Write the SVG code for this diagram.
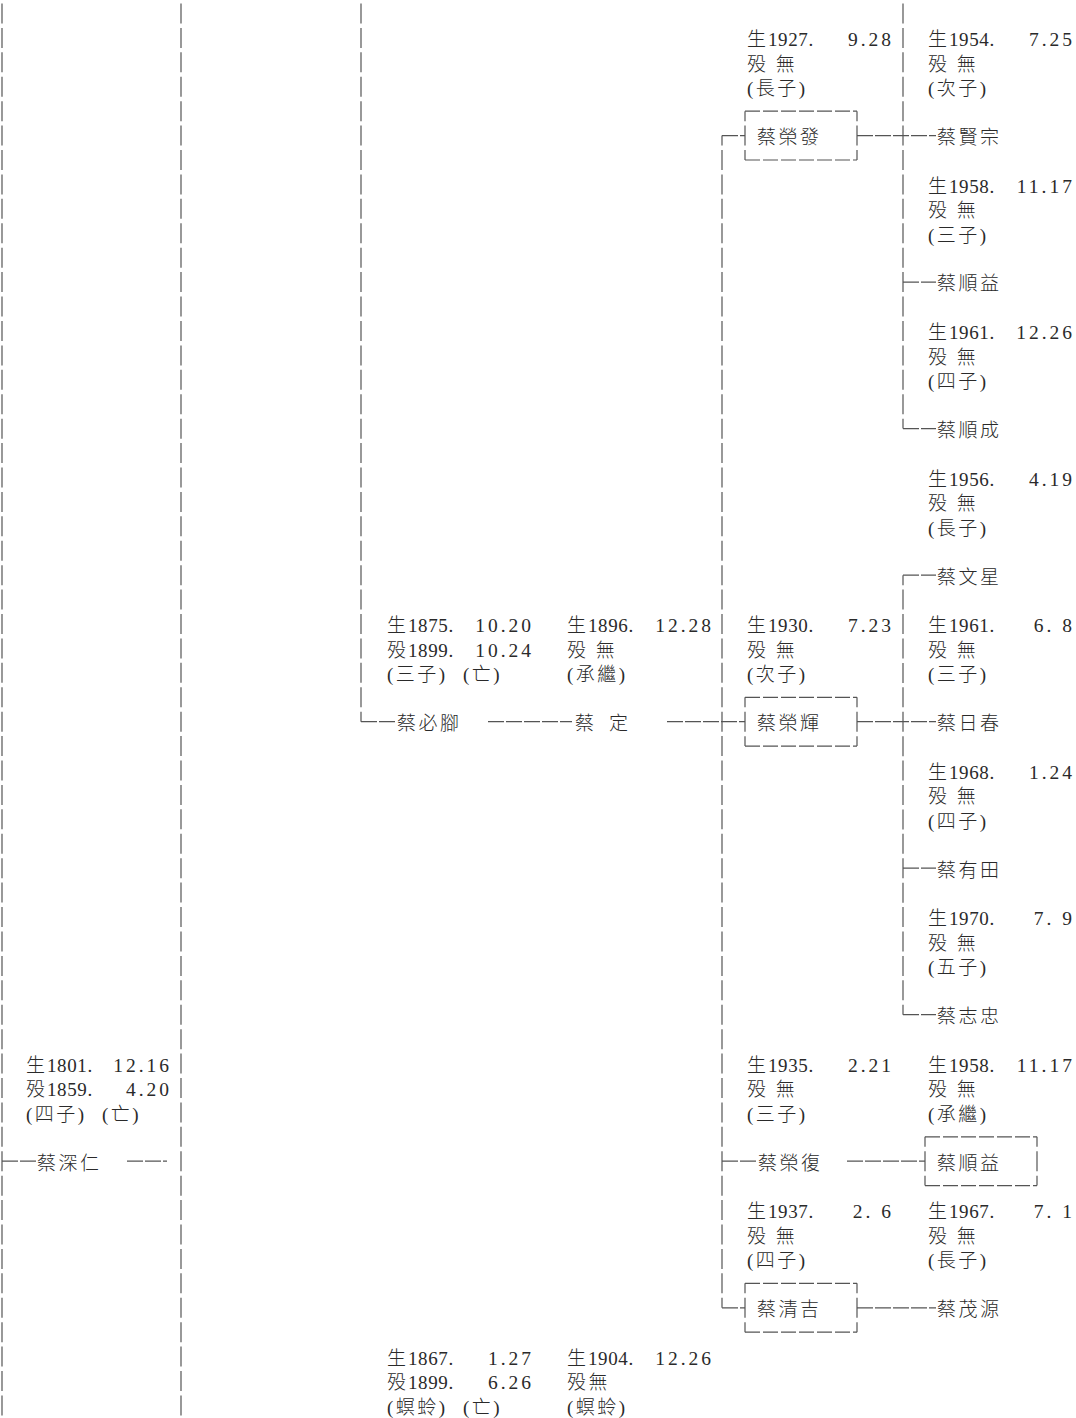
<svg xmlns="http://www.w3.org/2000/svg" width="1076" height="1418" viewBox="0 0 1076 1418">
<style>
.t{font-family:"Liberation Serif","Noto Sans CJK TC",serif;font-size:19px;fill:#2a2a2a;font-weight:300;}
.c{letter-spacing:2.5px;}
.y{letter-spacing:0.6px;}
.r{text-anchor:end;letter-spacing:3px;font-size:19.5px;}
.v{stroke:#555;stroke-width:1.2;fill:none;stroke-dasharray:20 4.42;}
.vo{stroke-dashoffset:10;}
.h{stroke:#555;stroke-width:1.2;fill:none;stroke-dasharray:16 2;}
.bx{stroke:#555;stroke-width:1.2;fill:none;stroke-dasharray:15 3;}
</style>
<rect width="1076" height="1418" fill="#fff"/>
<g id="connectors">
<line class="v" x1="2" y1="3.5" x2="2" y2="1418"/>
<line class="v" x1="181" y1="3.5" x2="181" y2="1418"/>
<line class="v" x1="361" y1="3.5" x2="361" y2="721.7"/>
<line class="v vo" x1="722" y1="135.6" x2="722" y2="1307.8"/>
<line class="v" x1="903" y1="3.5" x2="903" y2="428.6"/>
<line class="v vo" x1="903" y1="575.2" x2="903" y2="1014.7"/>
<line class="h" x1="2" y1="1161.2" x2="36" y2="1161.2"/>
<line class="h" x1="127" y1="1161.2" x2="167" y2="1161.2"/>
<line class="h" x1="361" y1="721.7" x2="396" y2="721.7"/>
<line class="h" x1="488" y1="721.7" x2="572" y2="721.7"/>
<line class="h" x1="667" y1="721.7" x2="745" y2="721.7"/>
<line class="h" x1="722" y1="135.6" x2="745" y2="135.6"/>
<line class="h" x1="857" y1="135.6" x2="936" y2="135.6"/>
<line class="h" x1="903" y1="282.1" x2="936" y2="282.1"/>
<line class="h" x1="903" y1="428.6" x2="936" y2="428.6"/>
<line class="h" x1="903" y1="575.2" x2="936" y2="575.2"/>
<line class="h" x1="857" y1="721.7" x2="936" y2="721.7"/>
<line class="h" x1="903" y1="868.2" x2="936" y2="868.2"/>
<line class="h" x1="903" y1="1014.7" x2="936" y2="1014.7"/>
<line class="h" x1="722" y1="1161.2" x2="756" y2="1161.2"/>
<line class="h" x1="847" y1="1161.2" x2="925" y2="1161.2"/>
<line class="h" x1="722" y1="1307.8" x2="745" y2="1307.8"/>
<line class="h" x1="857" y1="1307.8" x2="936" y2="1307.8"/>
</g>

<g id="box-rongfa">
<line class="bx" x1="745" y1="111.2" x2="857" y2="111.2"/>
<line class="bx" x1="745" y1="160" x2="857" y2="160"/>
<line class="v vo" x1="745" y1="111.2" x2="745" y2="160"/>
<line class="v vo" x1="857" y1="111.2" x2="857" y2="160"/>
<text class="t c" x="757" y="143.9">蔡榮發</text>
</g>
<g id="box-ronghui">
<line class="bx" x1="745" y1="697.3" x2="857" y2="697.3"/>
<line class="bx" x1="745" y1="746.1" x2="857" y2="746.1"/>
<line class="v vo" x1="745" y1="697.3" x2="745" y2="746.1"/>
<line class="v vo" x1="857" y1="697.3" x2="857" y2="746.1"/>
<text class="t c" x="757" y="730">蔡榮輝</text>
</g>
<g id="box-shunyi2">
<line class="bx" x1="925" y1="1136.8" x2="1037" y2="1136.8"/>
<line class="bx" x1="925" y1="1185.6" x2="1037" y2="1185.6"/>
<line class="v vo" x1="925" y1="1136.8" x2="925" y2="1185.6"/>
<line class="v vo" x1="1037" y1="1136.8" x2="1037" y2="1185.6"/>
<text class="t c" x="937" y="1169.5">蔡順益</text>
</g>
<g id="box-qingji">
<line class="bx" x1="745" y1="1283.3" x2="857" y2="1283.3"/>
<line class="bx" x1="745" y1="1332.2" x2="857" y2="1332.2"/>
<line class="v vo" x1="745" y1="1283.3" x2="745" y2="1332.2"/>
<line class="v vo" x1="857" y1="1283.3" x2="857" y2="1332.2"/>
<text class="t c" x="757" y="1316.1">蔡清吉</text>
</g>

<g id="shenren">
<text class="t" x="26" y="1071.9">生<tspan class="y" x="47">1801.</tspan></text><text class="t r" x="172" y="1071.9">12.16</text>
<text class="t" x="26" y="1096.3">殁<tspan class="y" x="47">1859.</tspan></text><text class="t r" x="172" y="1096.3">4.20</text>
<text class="t c" x="26" y="1120.7">(四子)<tspan x="102">(亡)</tspan></text>
<text class="t c" x="37" y="1169.5">蔡深仁</text>
</g>
<g id="bijiao">
<text class="t" x="387" y="632.3">生<tspan class="y" x="408">1875.</tspan></text><text class="t r" x="534" y="632.3">10.20</text>
<text class="t" x="387" y="656.7">殁<tspan class="y" x="408">1899.</tspan></text><text class="t r" x="534" y="656.7">10.24</text>
<text class="t c" x="387" y="681.1">(三子)<tspan x="463">(亡)</tspan></text>
<text class="t c" x="397" y="730">蔡必腳</text>
</g>
<g id="ding">
<text class="t" x="567" y="632.3">生<tspan class="y" x="588">1896.</tspan></text><text class="t r" x="714" y="632.3">12.28</text>
<text class="t c" x="567" y="656.7">殁 無</text>
<text class="t c" x="567" y="681.1">(承繼)</text>
<text class="t" x="575" y="730">蔡</text><text class="t" x="609" y="730">定</text>
</g>
<g id="adopt1">
<text class="t" x="387" y="1364.9">生<tspan class="y" x="408">1867.</tspan></text><text class="t r" x="534" y="1364.9">1.27</text>
<text class="t" x="387" y="1389.3">殁<tspan class="y" x="408">1899.</tspan></text><text class="t r" x="534" y="1389.3">6.26</text>
<text class="t c" x="387" y="1413.7">(螟蛉)<tspan x="463">(亡)</tspan></text>
</g>
<g id="adopt2">
<text class="t" x="567" y="1364.9">生<tspan class="y" x="588">1904.</tspan></text><text class="t r" x="714" y="1364.9">12.26</text>
<text class="t c" x="567" y="1389.3">殁無</text>
<text class="t c" x="567" y="1413.7">(螟蛉)</text>
</g>

<g id="rongfa-info">
<text class="t" x="747" y="46.2">生<tspan class="y" x="768">1927.</tspan></text><text class="t r" x="894" y="46.2">9.28</text>
<text class="t c" x="747" y="70.6">殁 無</text>
<text class="t c" x="747" y="95.1">(長子)</text>
</g>
<g id="ronghui-info">
<text class="t" x="747" y="632.3">生<tspan class="y" x="768">1930.</tspan></text><text class="t r" x="894" y="632.3">7.23</text>
<text class="t c" x="747" y="656.7">殁 無</text>
<text class="t c" x="747" y="681.1">(次子)</text>
</g>
<g id="rongfu">
<text class="t" x="747" y="1071.9">生<tspan class="y" x="768">1935.</tspan></text><text class="t r" x="894" y="1071.9">2.21</text>
<text class="t c" x="747" y="1096.3">殁 無</text>
<text class="t c" x="747" y="1120.7">(三子)</text>
<text class="t c" x="758" y="1169.5">蔡榮復</text>
</g>
<g id="qingji-info">
<text class="t" x="747" y="1218.4">生<tspan class="y" x="768">1937.</tspan></text><text class="t r" x="894" y="1218.4">2. 6</text>
<text class="t c" x="747" y="1242.8">殁 無</text>
<text class="t c" x="747" y="1267.2">(四子)</text>
</g>

<g id="xianzong">
<text class="t" x="928" y="46.2">生<tspan class="y" x="949">1954.</tspan></text><text class="t r" x="1075" y="46.2">7.25</text>
<text class="t c" x="928" y="70.6">殁 無</text>
<text class="t c" x="928" y="95.1">(次子)</text>
<text class="t c" x="937" y="143.9">蔡賢宗</text>
</g>
<g id="shunyi">
<text class="t" x="928" y="192.7">生<tspan class="y" x="949">1958.</tspan></text><text class="t r" x="1075" y="192.7">11.17</text>
<text class="t c" x="928" y="217.2">殁 無</text>
<text class="t c" x="928" y="241.6">(三子)</text>
<text class="t c" x="937" y="290.4">蔡順益</text>
</g>
<g id="shuncheng">
<text class="t" x="928" y="339.3">生<tspan class="y" x="949">1961.</tspan></text><text class="t r" x="1075" y="339.3">12.26</text>
<text class="t c" x="928" y="363.7">殁 無</text>
<text class="t c" x="928" y="388.1">(四子)</text>
<text class="t c" x="937" y="436.9">蔡順成</text>
</g>
<g id="wenxing">
<text class="t" x="928" y="485.8">生<tspan class="y" x="949">1956.</tspan></text><text class="t r" x="1075" y="485.8">4.19</text>
<text class="t c" x="928" y="510.2">殁 無</text>
<text class="t c" x="928" y="534.6">(長子)</text>
<text class="t c" x="937" y="583.5">蔡文星</text>
</g>
<g id="richun">
<text class="t" x="928" y="632.3">生<tspan class="y" x="949">1961.</tspan></text><text class="t r" x="1075" y="632.3">6. 8</text>
<text class="t c" x="928" y="656.7">殁 無</text>
<text class="t c" x="928" y="681.1">(三子)</text>
<text class="t c" x="937" y="730">蔡日春</text>
</g>
<g id="youtian">
<text class="t" x="928" y="778.8">生<tspan class="y" x="949">1968.</tspan></text><text class="t r" x="1075" y="778.8">1.24</text>
<text class="t c" x="928" y="803.2">殁 無</text>
<text class="t c" x="928" y="827.7">(四子)</text>
<text class="t c" x="937" y="876.5">蔡有田</text>
</g>
<g id="zhizhong">
<text class="t" x="928" y="925.3">生<tspan class="y" x="949">1970.</tspan></text><text class="t r" x="1075" y="925.3">7. 9</text>
<text class="t c" x="928" y="949.8">殁 無</text>
<text class="t c" x="928" y="974.2">(五子)</text>
<text class="t c" x="937" y="1023">蔡志忠</text>
</g>
<g id="shunyi2-info">
<text class="t" x="928" y="1071.9">生<tspan class="y" x="949">1958.</tspan></text><text class="t r" x="1075" y="1071.9">11.17</text>
<text class="t c" x="928" y="1096.3">殁 無</text>
<text class="t c" x="928" y="1120.7">(承繼)</text>
</g>
<g id="maoyuan">
<text class="t" x="928" y="1218.4">生<tspan class="y" x="949">1967.</tspan></text><text class="t r" x="1075" y="1218.4">7. 1</text>
<text class="t c" x="928" y="1242.8">殁 無</text>
<text class="t c" x="928" y="1267.2">(長子)</text>
<text class="t c" x="937" y="1316.1">蔡茂源</text>
</g>
</svg>
